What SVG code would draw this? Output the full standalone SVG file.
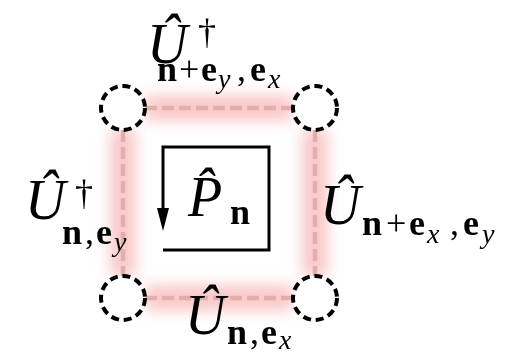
<svg xmlns="http://www.w3.org/2000/svg" width="520" height="354" viewBox="0 0 520 354">
  <defs>
    <filter id="blur" filterUnits="userSpaceOnUse" x="0" y="0" width="520" height="354">
      <feGaussianBlur stdDeviation="7"/>
    </filter>
  </defs>
  <style>
    .glow { stroke: #f59a9a; stroke-width: 26; opacity: 0.55; fill: none; }
    .link { stroke: #e3aeae; stroke-width: 4.5; stroke-dasharray: 12 5; fill: none; }
    .site { fill: #fff; stroke: #000; stroke-width: 4; stroke-dasharray: 8 4.8; }
    .m { font-family: "Liberation Serif", serif; font-style: italic; font-size: 56px; fill: #000; }
    .b { font-family: "Liberation Serif", serif; font-weight: bold; font-size: 36px; fill: #000; }
    .r { font-family: "Liberation Serif", serif; font-size: 36px; fill: #000; }
    .s { font-family: "Liberation Serif", serif; font-style: italic; font-size: 28px; fill: #000; }
    .d { font-family: "Liberation Serif", serif; font-size: 36px; fill: #000; }
  </style>

  <g id="connectors">
    <g id="glows" filter="url(#blur)">
      <line class="glow" x1="145" y1="108" x2="293" y2="108"/>
      <line class="glow" x1="145" y1="298" x2="293" y2="298"/>
      <line class="glow" x1="123" y1="130" x2="123" y2="276"/>
      <line class="glow" x1="315" y1="130" x2="315" y2="276"/>
    </g>
    <line id="link-top" class="link" x1="145" y1="108" x2="293" y2="108"/>
    <line id="link-bottom" class="link" x1="145" y1="298" x2="293" y2="298"/>
    <line id="link-left" class="link" x1="123" y1="130" x2="123" y2="276"/>
    <line id="link-right" class="link" x1="315" y1="130" x2="315" y2="276"/>
  </g>

  <g id="site-tl"><circle class="site" cx="123" cy="108" r="22"/></g>
  <g id="site-tr"><circle class="site" cx="315" cy="108" r="22"/></g>
  <g id="site-bl"><circle class="site" cx="123" cy="298" r="22"/></g>
  <g id="site-br"><circle class="site" cx="315" cy="298" r="22"/></g>

  <g id="plaquette">
    <path d="M163,214 V147 H269 V250 H163" fill="none" stroke="#000" stroke-width="3"/>
    <path d="M157,208 L169,208 L163,231 z" fill="#000"/>
    <text class="m" x="188" y="216">P̂</text>
    <text class="b" x="230" y="224">n</text>
  </g>

  <g id="label-top">
    <text class="m" x="147" y="63">Û</text>
    <text class="d" x="198" y="44">†</text>
    <text class="b" x="157" y="81">n</text>
    <text class="r" x="179" y="81">+</text>
    <text class="b" x="201" y="81">e</text>
    <text class="s" x="218" y="88">y</text>
    <text class="r" x="237" y="81">,</text>
    <text class="b" x="250" y="81">e</text>
    <text class="s" x="268" y="88">x</text>
  </g>

  <g id="label-left">
    <text class="m" x="25" y="219">Û</text>
    <text class="d" x="75" y="205">†</text>
    <text class="b" x="62" y="244">n</text>
    <text class="r" x="85" y="244">,</text>
    <text class="b" x="96" y="244">e</text>
    <text class="s" x="114" y="251">y</text>
  </g>

  <g id="label-right">
    <text class="m" x="320" y="224">Û</text>
    <text class="b" x="362" y="235">n</text>
    <text class="r" x="386" y="235">+</text>
    <text class="b" x="409" y="235">e</text>
    <text class="s" x="427" y="243">x</text>
    <text class="r" x="450" y="235">,</text>
    <text class="b" x="463" y="235">e</text>
    <text class="s" x="482" y="243">y</text>
  </g>

  <g id="label-bottom">
    <text class="m" x="185" y="334">Û</text>
    <text class="b" x="227" y="344">n</text>
    <text class="r" x="250" y="344">,</text>
    <text class="b" x="261" y="344">e</text>
    <text class="s" x="279" y="349">x</text>
  </g>
</svg>
